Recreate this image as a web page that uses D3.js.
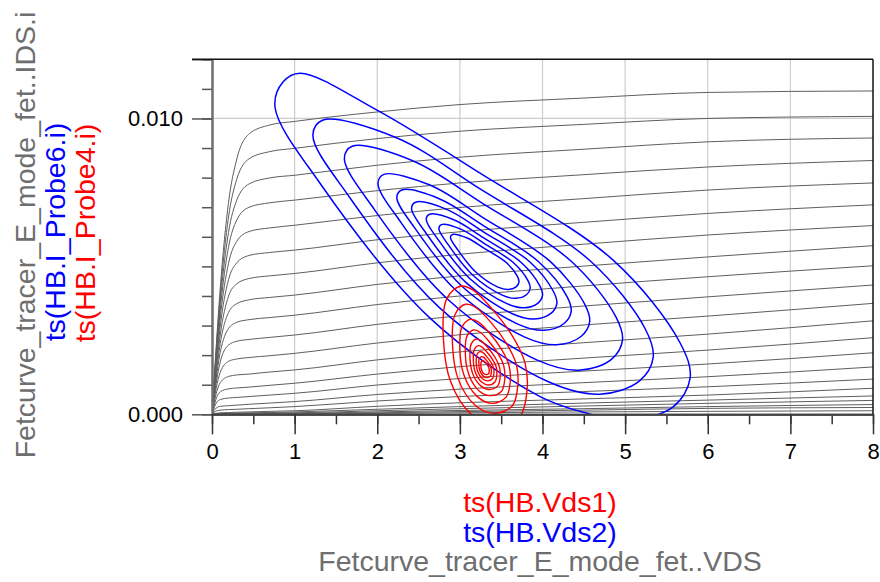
<!DOCTYPE html>
<html lang="en">
<head>
    <meta charset="UTF-8"/>
    <title>Fetcurve tracer - HB load lines</title>
    <script src="https://d3js.org/d3.v7.min.js"></script>
    <style>
        body { margin: 0; background: #fff; }
        svg text { font-family: "Liberation Sans", Arial, sans-serif; }
    </style>
</head>
<body>
<script>
    // ---- data (VDS in V, IDS in mA) ----
    var vdsSweep = [0, 0.05, 0.1, 0.2, 0.3, 0.45, 0.7, 1, 2, 3, 4.5, 6, 8];

    // one row per gate step
    var idsCurves = [
        [0, 2.25, 4.27, 7.16, 8.63, 9.48, 9.78, 9.90, 10.22, 10.47, 10.69, 10.88, 10.93],
        [0, 2.13, 4.03, 6.67, 7.95, 8.64, 8.88, 8.99, 9.32, 9.57, 9.80, 10.00, 10.07],
        [0, 2.01, 3.78, 6.15, 7.24, 7.79, 7.99, 8.08, 8.42, 8.69, 8.96, 9.21, 9.34],
        [0, 1.89, 3.53, 5.65, 6.57, 7.00, 7.15, 7.24, 7.56, 7.82, 8.10, 8.36, 8.58],
        [0, 1.76, 3.26, 5.10, 5.85, 6.18, 6.30, 6.39, 6.72, 6.99, 7.29, 7.58, 7.82],
        [0, 1.63, 2.98, 4.55, 5.12, 5.37, 5.47, 5.55, 5.90, 6.17, 6.49, 6.79, 7.08],
        [0, 1.48, 2.68, 3.99, 4.41, 4.59, 4.68, 4.76, 5.12, 5.41, 5.75, 6.06, 6.38],
        [0, 1.34, 2.39, 3.44, 3.74, 3.87, 3.95, 4.03, 4.39, 4.68, 5.01, 5.32, 5.70],
        [0, 1.20, 2.09, 2.90, 3.11, 3.20, 3.27, 3.35, 3.71, 4.00, 4.34, 4.65, 5.02],
        [0, 1.04, 1.77, 2.34, 2.47, 2.53, 2.60, 2.68, 3.04, 3.33, 3.66, 3.97, 4.37],
        [0, 0.87, 1.42, 1.79, 1.87, 1.92, 1.98, 2.06, 2.41, 2.69, 3.02, 3.32, 3.75],
        [0, 0.69, 1.07, 1.28, 1.33, 1.36, 1.43, 1.50, 1.84, 2.11, 2.42, 2.71, 3.16],
        [0, 0.52, 0.76, 0.86, 0.89, 0.92, 0.98, 1.05, 1.36, 1.61, 1.90, 2.17, 2.59],
        [0, 0.37, 0.50, 0.55, 0.57, 0.60, 0.65, 0.71, 0.99, 1.21, 1.46, 1.70, 2.08],
        [0, 0.21, 0.27, 0.29, 0.31, 0.34, 0.38, 0.43, 0.67, 0.85, 1.07, 1.27, 1.60],
        [0, 0.11, 0.14, 0.16, 0.17, 0.19, 0.22, 0.26, 0.45, 0.60, 0.77, 0.93, 1.19],
        [0, 0.03, 0.05, 0.06, 0.07, 0.08, 0.10, 0.12, 0.27, 0.39, 0.52, 0.65, 0.88],
        [0, 0.01, 0.02, 0.03, 0.04, 0.05, 0.06, 0.08, 0.17, 0.26, 0.38, 0.48, 0.62],
        [0, 0.005, 0.01, 0.02, 0.025, 0.03, 0.04, 0.05, 0.12, 0.19, 0.28, 0.37, 0.47],
        [0, 0.005, 0.01, 0.01, 0.015, 0.02, 0.025, 0.03, 0.08, 0.13, 0.19, 0.26, 0.33],
        [0, 0, 0.005, 0.01, 0.01, 0.015, 0.02, 0.02, 0.05, 0.09, 0.14, 0.20, 0.23],
        [0, 0, 0, 0.005, 0.005, 0.01, 0.01, 0.01, 0.03, 0.05, 0.08, 0.10, 0.12]
    ];

    // ts(HB.Vds2) vs ts(HB.I_Probe6.i), outer to inner, [V, mA]
    var blueLoops = [
        [[1.065, 11.53], [1.997, 10.28], [3.244, 8.15], [4.855, 5.21], [5.666, 2.41], [5.787, 1.23], [5.581, 0.25],
         [5.000, -0.22], [4.560, 0.02], [3.970, 0.60], [2.639, 3.25], [1.307, 7.81], [0.763, 10.38], [0.859, 11.23]],
        [[1.337, 9.94], [2.232, 9.35], [3.255, 7.60], [4.576, 5.19], [5.241, 2.90], [5.340, 1.93], [5.171, 1.12],
         [4.695, 0.68], [4.079, 1.09], [2.759, 3.59], [1.667, 7.33], [1.221, 9.43]],
        [[1.697, 9.06], [2.429, 8.57], [3.264, 7.15], [4.344, 5.18], [4.887, 3.30], [4.968, 2.51], [4.830, 1.85],
         [4.441, 1.49], [3.937, 1.83], [2.859, 3.87], [1.966, 6.92], [1.602, 8.64]],
        [[2.081, 8.11], [2.638, 7.75], [3.274, 6.66], [4.096, 5.16], [4.509, 3.73], [4.571, 3.13], [4.466, 2.63],
         [4.169, 2.35], [3.786, 2.61], [2.965, 4.16], [2.286, 6.49], [2.009, 7.80]],
        [[2.297, 7.58], [2.756, 7.28], [3.279, 6.39], [3.956, 5.15], [4.297, 3.98], [4.347, 3.48], [4.261, 3.07],
         [4.017, 2.84], [3.701, 3.05], [3.025, 4.33], [2.466, 6.25], [2.237, 7.32]],
        [[2.465, 7.17], [2.847, 6.92], [3.284, 6.17], [3.848, 5.15], [4.131, 4.16], [4.174, 3.75], [4.102, 3.41],
         [3.898, 3.22], [3.635, 3.40], [3.072, 4.46], [2.606, 6.06], [2.415, 6.96]],
        [[2.633, 6.76], [2.939, 6.56], [3.288, 5.96], [3.739, 5.14], [3.966, 4.35], [4.000, 4.02], [3.942, 3.75],
         [3.780, 3.60], [3.569, 3.74], [3.119, 4.59], [2.746, 5.87], [2.593, 6.59]],
        [[2.777, 6.41], [3.017, 6.25], [3.292, 5.78], [3.646, 5.13], [3.824, 4.52], [3.851, 4.26], [3.806, 4.04],
         [3.678, 3.92], [3.513, 4.03], [3.158, 4.70], [2.865, 5.71], [2.746, 6.27]],
        [[2.909, 6.08], [3.089, 5.96], [3.295, 5.61], [3.561, 5.13], [3.695, 4.67], [3.715, 4.47], [3.681, 4.31],
         [3.585, 4.22], [3.461, 4.30], [3.195, 4.80], [2.975, 5.56], [2.886, 5.98]]
    ];

    // ts(HB.Vds1) vs ts(HB.I_Probe4.i), outer to inner, [V, mA]
    var redLoops = [
        [[3.002, 4.33], [3.160, 4.20], [3.402, 3.52], [3.644, 2.61], [3.789, 1.73], [3.813, 0.82],
         [3.729, -0.06], [3.450, -0.40], [3.160, -0.06], [2.881, 1.16], [2.797, 3.19], [2.845, 3.93]],
        [[3.069, 3.72], [3.192, 3.61], [3.381, 3.09], [3.569, 2.37], [3.683, 1.69], [3.701, 0.98],
         [3.636, 0.29], [3.418, 0.03], [3.192, 0.29], [2.974, 1.24], [2.909, 2.82], [2.946, 3.40]],
        [[3.123, 3.21], [3.218, 3.13], [3.363, 2.73], [3.508, 2.18], [3.595, 1.65], [3.610, 1.10],
         [3.559, 0.58], [3.392, 0.37], [3.218, 0.58], [3.051, 1.31], [3.000, 2.52], [3.029, 2.97]],
        [[3.163, 2.85], [3.237, 2.79], [3.351, 2.47], [3.464, 2.04], [3.532, 1.63], [3.544, 1.20],
         [3.504, 0.78], [3.373, 0.63], [3.237, 0.78], [3.106, 1.36], [3.066, 2.31], [3.089, 2.66]],
        [[3.196, 2.54], [3.253, 2.49], [3.340, 2.25], [3.427, 1.92], [3.479, 1.60], [3.488, 1.28],
         [3.458, 0.96], [3.357, 0.84], [3.253, 0.96], [3.152, 1.40], [3.122, 2.13], [3.139, 2.39]],
        [[3.220, 2.32], [3.264, 2.28], [3.332, 2.09], [3.400, 1.83], [3.441, 1.59], [3.447, 1.33],
         [3.424, 1.09], [3.346, 0.99], [3.264, 1.09], [3.186, 1.43], [3.163, 1.99], [3.176, 2.20]],
        [[3.241, 2.12], [3.275, 2.09], [3.325, 1.95], [3.376, 1.76], [3.407, 1.57], [3.412, 1.38],
         [3.394, 1.20], [3.335, 1.13], [3.275, 1.20], [3.216, 1.45], [3.198, 1.88], [3.208, 2.03]],
        [[3.260, 1.95], [3.283, 1.93], [3.320, 1.83], [3.356, 1.69], [3.378, 1.56], [3.381, 1.42],
         [3.369, 1.29], [3.327, 1.24], [3.283, 1.29], [3.241, 1.48], [3.229, 1.78], [3.236, 1.89]],
        [[3.275, 1.81], [3.291, 1.80], [3.315, 1.73], [3.339, 1.64], [3.353, 1.55], [3.356, 1.46],
         [3.347, 1.37], [3.320, 1.34], [3.291, 1.37], [3.263, 1.49], [3.254, 1.70], [3.259, 1.77]]
    ];

    var xTicks = [0, 1, 2, 3, 4, 5, 6, 7, 8];
    var yTickLabels = [0, 10];          // mA, shown in A
    var xTitles = ["ts(HB.Vds1)", "ts(HB.Vds2)", "Fetcurve_tracer_E_mode_fet..VDS"];
    var yTitles = ["Fetcurve_tracer_E_mode_fet..IDS.i", "ts(HB.I_Probe6.i)", "ts(HB.I_Probe4.i)"];

    // ---- layout ----
    var w = 880, h = 582;
    var plot = {left: 212, right: 873, top: 59.3, bottom: 414.3};

    var svg = d3.select("body").append("svg")
        .attr("width", w)
        .attr("height", h);

    var x = d3.scaleLinear().domain([0, 8]).range([plot.left, plot.right]);
    var y = d3.scaleLinear().domain([0, 12]).range([plot.bottom, plot.top]);

    svg.append("clipPath").attr("id", "plotClip")
        .append("rect")
        .attr("x", x(0)).attr("y", y(12))
        .attr("width", x(8) - x(0)).attr("height", y(0) - y(12));

    // grid
    var grid = svg.append("g").attr("stroke", "#cdcdcd").attr("stroke-width", 1.2);
    grid.selectAll("line.v").data(xTicks.slice(1, -1)).join("line")
        .attr("class", "v")
        .attr("x1", d => x(d)).attr("x2", d => x(d))
        .attr("y1", y(0)).attr("y2", y(12));
    grid.selectAll("line.h").data([10]).join("line")
        .attr("class", "h")
        .attr("x1", x(0)).attr("x2", x(8))
        .attr("y1", d => y(d)).attr("y2", d => y(d));

    var plotArea = svg.append("g").attr("clip-path", "url(#plotClip)");

    // IV family
    var ivLine = d3.line()
        .x((d, i) => x(vdsSweep[i]))
        .y(d => y(d))
        .curve(d3.curveMonotoneX);

    plotArea.append("g").selectAll("path").data(idsCurves).join("path")
        .attr("d", ivLine)
        .attr("fill", "none")
        .attr("stroke", "#5e5e5e")
        .attr("stroke-width", 1);

    // load line loops
    var loopLine = d3.line()
        .x(d => x(d[0]))
        .y(d => y(d[1]))
        .curve(d3.curveCatmullRomClosed.alpha(0.5));

    plotArea.append("g").selectAll("path").data(blueLoops).join("path")
        .attr("d", loopLine)
        .attr("fill", "none")
        .attr("stroke", "#0000ff")
        .attr("stroke-width", 1.5);

    plotArea.append("g").selectAll("path").data(redLoops).join("path")
        .attr("d", loopLine)
        .attr("fill", "none")
        .attr("stroke", "#ff0000")
        .attr("stroke-width", 1.4);

    // axes
    function styleAxis(g, col, domainCol, domainW) {
        g.selectAll(".tick line").attr("stroke", col).attr("stroke-width", 1.5);
        g.selectAll(".tick text").attr("font-size", "22px").attr("fill", "#000")
            .attr("font-family", "'Liberation Sans', Arial, sans-serif");
        g.select(".domain").attr("stroke", domainCol).attr("stroke-width", domainW);
    }

    var yMinor = svg.append("g").attr("transform", "translate(" + plot.left + ",0)")
        .call(d3.axisLeft(y).tickValues(d3.range(0, 13)).tickSize(10).tickSizeOuter(0).tickFormat(""));
    styleAxis(yMinor, "#555", "#6e6e6e", 2);

    var yMajor = svg.append("g").attr("transform", "translate(" + plot.left + ",0)")
        .call(d3.axisLeft(y).tickValues(yTickLabels.concat([12])).tickSize(20).tickSizeOuter(0).tickPadding(9)
            .tickFormat(d => yTickLabels.indexOf(d) >= 0 ? d3.format(".3f")(d / 1000) : ""));
    styleAxis(yMajor, "#555", "#6e6e6e", 2);

    var xMinor = svg.append("g").attr("transform", "translate(0," + plot.bottom + ")")
        .call(d3.axisBottom(x).tickValues(d3.range(0, 8.01, 0.5)).tickSize(10).tickSizeOuter(0).tickFormat(""));
    styleAxis(xMinor, "#333", "#444", 2);

    var xMajor = svg.append("g").attr("transform", "translate(0," + plot.bottom + ")")
        .call(d3.axisBottom(x).tickValues(xTicks).tickSize(20).tickSizeOuter(0).tickPadding(9)
            .tickFormat(d3.format("d")));
    styleAxis(xMajor, "#333", "#444", 2);

    // frame top / right
    svg.append("line")
        .attr("x1", x(0) - 20).attr("x2", x(8))
        .attr("y1", y(12)).attr("y2", y(12))
        .attr("stroke", "#111").attr("stroke-width", 1.5);
    svg.append("line")
        .attr("x1", x(8)).attr("x2", x(8))
        .attr("y1", y(12)).attr("y2", y(0))
        .attr("stroke", "#111").attr("stroke-width", 1.5);

    // titles
    var titleColors = ["#ff0000", "#0000ff", "#6e6e6e"];
    var xTitleBase = [512, 542, 571];
    svg.append("g").selectAll("text").data(xTitles).join("text")
        .attr("x", 540)
        .attr("y", (d, i) => xTitleBase[i])
        .attr("text-anchor", "middle")
        .attr("font-size", "28.5px")
        .attr("fill", (d, i) => titleColors[i])
        .text(d => d);

    var yTitleColors = ["#6e6e6e", "#0000ff", "#ff0000"];
    var yTitlePos = [[35, 235], [65, 232], [95, 233]];
    svg.append("g").selectAll("text").data(yTitles).join("text")
        .attr("transform", (d, i) => "translate(" + yTitlePos[i][0] + "," + yTitlePos[i][1] + ") rotate(-90)")
        .attr("text-anchor", "middle")
        .attr("font-size", "28.5px")
        .attr("fill", (d, i) => yTitleColors[i])
        .text(d => d);
</script>
</body>
</html>
